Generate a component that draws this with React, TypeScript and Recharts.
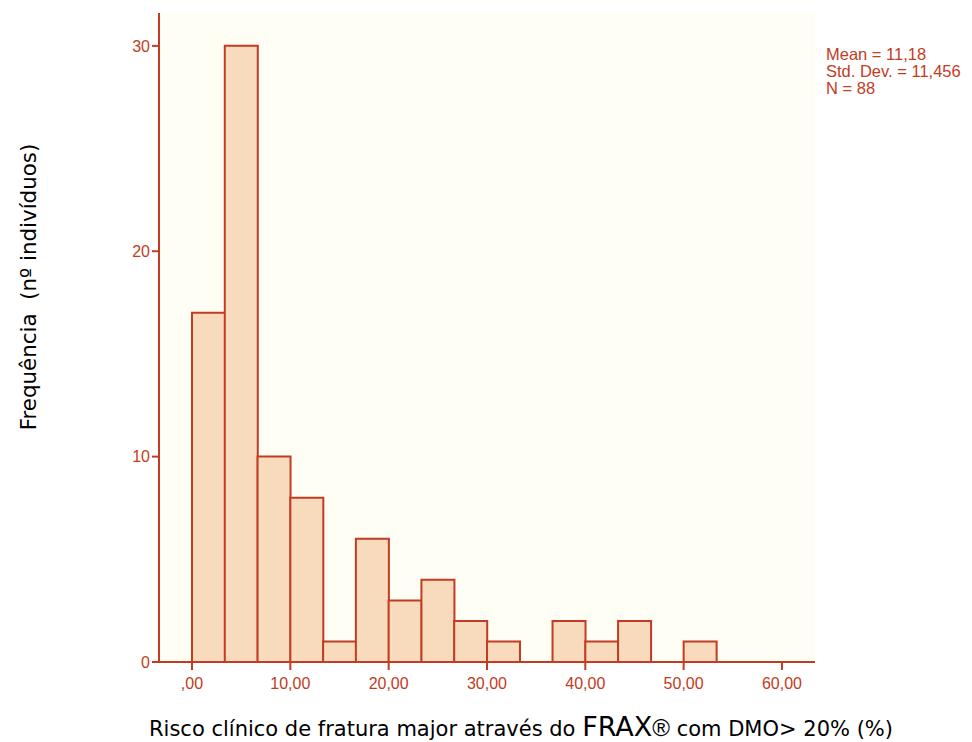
import React from "react";
import { ComposedChart, Bar, XAxis, YAxis, CartesianGrid, Customized, Label } from "recharts";

const binCenters = [1.667, 5, 8.333, 11.667, 15, 18.333, 21.667, 25, 28.333, 31.667, 35, 38.333, 41.667, 45, 48.333, 51.667];
const frequencies = [17, 30, 10, 8, 1, 6, 3, 4, 2, 1, 0, 2, 1, 2, 0, 1];
const xTicks = [0, 10, 20, 30, 40, 50, 60];
const yTicks = [0, 10, 20, 30];
const statsLines = ["Mean = 11,18", "Std. Dev. = 11,456", "N = 88"];

const data = binCenters.map((c, i) => ({ x: c, freq: frequencies[i] }));

const RED = "#c23b22";
const FILL = "#f8dabd";
const BG = "#fffef5";

const fmtX = (v: number) => (v === 0 ? ",00" : `${v},00`);

const Stats = () => (
  <g>
    {statsLines.map((t, i) => (
      <text key={i} x={818} y={52 + i * 17} fill={RED} fontSize={16.5} fontFamily="Liberation Sans, Arial, sans-serif">
        {t}
      </text>
    ))}
  </g>
);

export default function App() {
  return (
    <ComposedChart
      width={956}
      height={734}
      data={data}
      margin={{ top: 5, right: 149, left: 0, bottom: 0 }}
      barCategoryGap={0}
      barGap={0}
    >
      <CartesianGrid horizontal={false} vertical={false} fill={BG} />
      <XAxis
        dataKey="x"
        type="number"
        domain={[-3.356, 63.36]}
        ticks={xTicks}
        tickFormatter={fmtX}
        allowDataOverflow
        height={80}
        axisLine={{ stroke: RED, strokeWidth: 2 }}
        tickLine={{ stroke: RED, strokeWidth: 2 }}
        tickSize={8}
        tick={{ fill: RED, fontSize: 16, fontFamily: "Liberation Sans, Arial, sans-serif", dy: 6 }}
      >
        <Label
          content={() => (
            <text x={513} y={728} textAnchor="middle" fill="#000" fontFamily="DejaVu Sans, sans-serif" fontSize={21}>
              Risco clínico de fratura major através do <tspan fontSize={27}>FRAX</tspan>
              <tspan fontFamily="Liberation Sans, Arial, sans-serif" fontSize={24}>®</tspan> com DMO{"> 20% (%)"}
            </text>
          )}
        />
      </XAxis>
      <XAxis
        xAxisId="top"
        orientation="top"
        type="number"
        dataKey="x"
        domain={[-3.356, 63.36]}
        allowDataOverflow
        height={0}
        tick={false}
        tickLine={false}
        axisLine={{ stroke: RED, strokeWidth: 2 }}
      />
      <YAxis
        type="number"
        domain={[0, 31.6]}
        ticks={yTicks}
        allowDataOverflow
        width={151}
        axisLine={{ stroke: RED, strokeWidth: 2 }}
        tickLine={{ stroke: RED, strokeWidth: 2 }}
        tickSize={7}
        tick={{ fill: RED, fontSize: 16, fontFamily: "Liberation Sans, Arial, sans-serif" }}
      >
        <Label
          content={() => (
            <text
              x={28}
              y={279}
              transform="rotate(-90 28 279)"
              textAnchor="middle"
              fill="#000"
              fontFamily="DejaVu Sans, sans-serif"
              fontSize={21.4}
            >
              Frequência&#160;&#160;(nº indivíduos)
            </text>
          )}
        />
      </YAxis>
      <YAxis
        yAxisId="right"
        orientation="right"
        type="number"
        domain={[0, 31.6]}
        width={0}
        tick={false}
        tickLine={false}
        axisLine={{ stroke: RED, strokeWidth: 2 }}
      />
      <Bar dataKey="freq" fill={FILL} stroke={RED} strokeWidth={2} isAnimationActive={false} />
      <Customized component={Stats} />
    </ComposedChart>
  );
}
